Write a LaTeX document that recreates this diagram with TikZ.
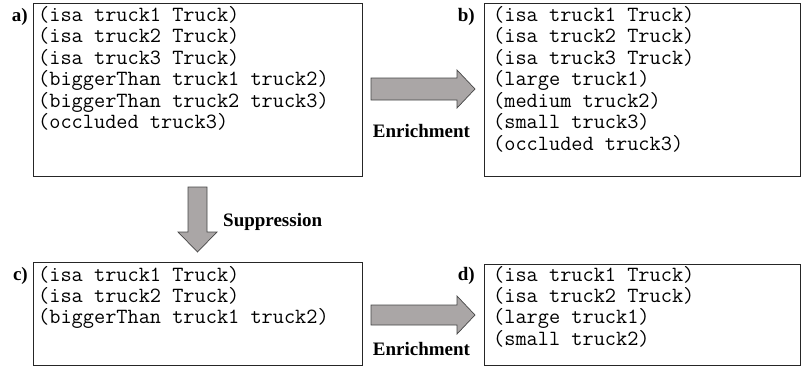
\documentclass[tikz,border=0pt]{standalone}
\usepackage{fontspec}
\setmainfont{Liberation Serif}
\definecolor{arrowgray}{RGB}{170,166,166}
\definecolor{edgegray}{RGB}{70,70,70}
\begin{document}
\begin{tikzpicture}[x=1bp,y=-1bp,
  box/.style={draw=black!85, line width=0.9bp, inner sep=0pt, anchor=north west},
  code/.style={anchor=base west, inner sep=0pt, font=\fontsize{21.7bp}{21.4bp}\selectfont\ttfamily},
  lab/.style={inner sep=0pt, font=\fontsize{19bp}{22bp}\selectfont\bfseries},
  blockarrow/.style={fill=arrowgray, draw=edgegray, line width=0.7bp, line join=miter}]
\useasboundingbox (0,0) rectangle (801,366);

% boxes
\node[box, minimum width=329bp, minimum height=173bp] (A) at (33,3) {};
\node[box, minimum width=315.5bp, minimum height=173bp] (B) at (484,3) {};
\node[box, minimum width=329bp, minimum height=102.5bp] (C) at (33,262) {};
\node[box, minimum width=315.5bp, minimum height=101.5bp] (D) at (484,263.5) {};

% texts
\node[code] (At) at (38,21.5) {\begin{tabular}[t]{@{}l@{}}
(isa truck1 Truck)\\
(isa truck2 Truck)\\
(isa truck3 Truck)\\
(biggerThan truck1 truck2)\\
(biggerThan truck2 truck3)\\
(occluded truck3)\end{tabular}};
\node[code] (Bt) at (493,21.5) {\begin{tabular}[t]{@{}l@{}}
(isa truck1 Truck)\\
(isa truck2 Truck)\\
(isa truck3 Truck)\\
(large truck1)\\
(medium truck2)\\
(small truck3)\\
(occluded truck3)\end{tabular}};
\node[code] (Ct) at (38,281) {\begin{tabular}[t]{@{}l@{}}
(isa truck1 Truck)\\
(isa truck2 Truck)\\
(biggerThan truck1 truck2)\end{tabular}};
\node[code] (Dt) at (493,281) {\begin{tabular}[t]{@{}l@{}}
(isa truck1 Truck)\\
(isa truck2 Truck)\\
(large truck1)\\
(small truck2)\end{tabular}};

% panel labels
\node[lab, anchor=base east] (la) at (28,21.5) {a)};
\node[lab, anchor=base east] (lb) at (475,21.5) {b)};
\node[lab, anchor=base east] (lc) at (28,280) {c)};
\node[lab, anchor=base east] (ld) at (475,280) {d)};

% block arrows
\draw[blockarrow] (371,78) -- (457,78) -- (457,70) -- (475,89) -- (457,108) -- (457,100) -- (371,100) -- cycle;
\draw[blockarrow] (371,305) -- (457,305) -- (457,296) -- (475,315) -- (457,334) -- (457,325) -- (371,325) -- cycle;
\draw[blockarrow] (188,187) -- (207,187) -- (207,232) -- (217,232) -- (197.5,252) -- (178,232) -- (188,232) -- cycle;

% arrow labels
\node[lab, anchor=base] (e1) at (421.5,137) {Enrichment};
\node[lab, anchor=base] (e2) at (421.5,355) {Enrichment};
\node[lab, anchor=base west] (s1) at (223,226.5) {Suppression};
\end{tikzpicture}
\end{document}
